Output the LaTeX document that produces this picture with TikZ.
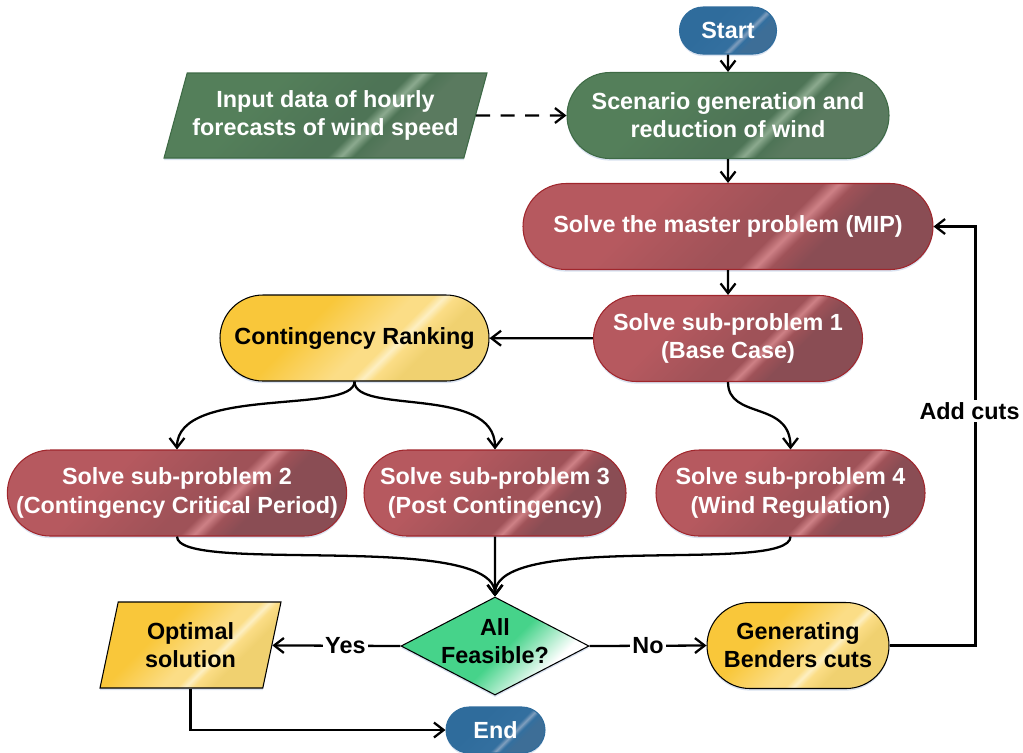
\documentclass[tikz,border=0pt]{standalone}
\usepackage{fontspec}
\setmainfont{Liberation Sans}
\usetikzlibrary{arrows.meta,shapes.geometric,shapes.misc,shadows}
\newcommand{\upx}{0.02cm}
\definecolor{red1}{HTML}{B6595F}
\definecolor{red2}{HTML}{9F5258}
\definecolor{red3}{HTML}{CE8186}
\definecolor{red4}{HTML}{8A4D54}
\definecolor{redb}{HTML}{A0262C}
\definecolor{grn1}{HTML}{547F5A}
\definecolor{grn2}{HTML}{4E7456}
\definecolor{grn3}{HTML}{8CAA8F}
\definecolor{grn4}{HTML}{5A7A5F}
\definecolor{grnb}{HTML}{3E6A45}
\definecolor{blu1}{HTML}{2F6C9C}
\definecolor{blu2}{HTML}{336F9F}
\definecolor{blu3}{HTML}{819FBE}
\definecolor{blu4}{HTML}{3D6E97}
\definecolor{yel1}{HTML}{F9C73A}
\definecolor{yel2}{HTML}{FBDD86}
\definecolor{yel3}{HTML}{FDEFC2}
\definecolor{yel4}{HTML}{F0D170}
\definecolor{dgreen}{HTML}{46D38A}
\definecolor{glow}{HTML}{C9D6EA}
\pgfdeclarehorizontalshading{redsh}{100bp}{color(0bp)=(red1); color(36bp)=(red1); color(53.5bp)=(red2); color(57.5bp)=(red2); color(59.8bp)=(red3); color(62bp)=(red2); color(66bp)=(red4); color(100bp)=(red4)}
\pgfdeclarehorizontalshading{grnsh}{100bp}{color(0bp)=(grn1); color(36bp)=(grn1); color(53.5bp)=(grn2); color(57.5bp)=(grn2); color(59.8bp)=(grn3); color(62bp)=(grn2); color(66bp)=(grn4); color(100bp)=(grn4)}
\pgfdeclarehorizontalshading{blush}{100bp}{color(0bp)=(blu1); color(38bp)=(blu1); color(55bp)=(blu2); color(58bp)=(blu2); color(60.5bp)=(blu3); color(63bp)=(blu2); color(67bp)=(blu4); color(100bp)=(blu4)}
\pgfdeclarehorizontalshading{yelsh}{100bp}{color(0bp)=(yel1); color(38bp)=(yel1); color(53.5bp)=(yel2); color(57.5bp)=(yel2); color(59.8bp)=(yel3); color(62bp)=(yel2); color(67bp)=(yel4); color(100bp)=(yel4)}
\pgfdeclarehorizontalshading{diash}{100bp}{color(0bp)=(dgreen); color(53bp)=(dgreen); color(69bp)=(white); color(100bp)=(white)}
\begin{document}
\begin{tikzpicture}[x=0.02cm,y=-0.02cm,
  base/.style={font=\bfseries\fontsize{13.3}{15.9}\selectfont, align=center, inner sep=0pt},
  wide/.style={font=\bfseries\fontsize{13.3}{17}\selectfont},
  glowy/.style={drop shadow={shadow xshift=0pt, shadow yshift=-1.2pt, fill=glow, opacity=0.7}},
  pill/.style={base, rounded rectangle, line width=0.6pt, glowy, minimum height=86*\upx},
  redbox/.style={pill, draw=redb, shade, shading=redsh, shading angle=-45, text=white},
  grnbox/.style={pill, draw=grnb, shade, shading=grnsh, shading angle=-45, text=white},
  blubox/.style={pill, draw=blu1, shade, shading=blush, shading angle=-45, text=white},
  yelbox/.style={pill, draw=black, shade, shading=yelsh, shading angle=-45, text=black},
  par/.style={base, trapezium, trapezium stretches body, line width=0.6pt, glowy},
  arr/.style={line width=1.3pt, -{Straight Barb[length=5.5pt,width=8.5pt]}},
  lab/.style={base, fill=white, inner sep=1.5pt, text=black}]
\useasboundingbox (0,0) rectangle (1023,752);

% nodes
\node[blubox, minimum width=97*\upx, minimum height=47*\upx] (start) at (728,30.5) {Start};
\node[grnbox, minimum width=322*\upx] (scen) at (728,115.5) {Scenario generation and\\reduction of wind};
\node[par, draw=grnb, shade, shading=grnsh, shading angle=-45, text=white,
      trapezium left angle=65, trapezium right angle=115,
      minimum width=323*\upx, minimum height=85*\upx] (input) at (325.5,115.5) {Input data of hourly\\forecasts of wind speed};
\node[redbox, minimum width=410*\upx] (master) at (728,226.5) {Solve the master problem (MIP)};
\node[redbox, minimum width=269*\upx] (sub1) at (728,338.5) {Solve sub-problem 1\\(Base Case)};
\node[yelbox, minimum width=269*\upx] (rank) at (354.5,338) {Contingency Ranking};
\node[redbox, wide, minimum width=338*\upx] (sub2) at (177,493) {Solve sub-problem 2\\(Contingency Critical Period)};
\node[redbox, wide, minimum width=262*\upx] (sub3) at (495,493) {Solve sub-problem 3\\(Post Contingency)};
\node[redbox, wide, minimum width=269*\upx] (sub4) at (790.5,493) {Solve sub-problem 4\\(Wind Regulation)};
\node[diamond, draw=black, line width=0.6pt, inner sep=0pt, glowy, shade, shading=diash, shading angle=-45,
      minimum width=188*\upx, minimum height=98*\upx] (feas) at (495,646) {};
\node[base, text=black] (feastxt) at (495,641) {All\\Feasible?};
\node[par, draw=black, shade, shading=yelsh, shading angle=-45, text=black,
      trapezium left angle=68, trapezium right angle=112,
      minimum width=181*\upx, minimum height=86*\upx] (opt) at (190.5,645) {Optimal\\solution};
\node[yelbox, minimum width=182*\upx] (gen) at (798,645.5) {Generating\\Benders cuts};
\node[blubox, minimum width=99*\upx, minimum height=46*\upx] (end) at (495.5,730) {End};

% connectors
\draw[arr] (start) -- (scen);
\draw[arr, dash pattern=on 8pt off 6pt] (input) -- (scen);
\draw[arr] (scen) -- (master);
\draw[arr] (master) -- (sub1);
\draw[arr] (sub1) -- (rank);
\draw[arr] (rank.south) .. controls (354.5,415) and (177,385) .. (sub2.north);
\draw[arr] (rank.south) .. controls (354.5,415) and (495,385) .. (sub3.north);
\draw[arr] (sub1.south) .. controls (728,420) and (790.5,400) .. (sub4.north);
\draw[arr] (sub2.south) .. controls (177,575) and (495,530) .. (feas.north);
\draw[arr] (sub3) -- (feas.north);
\draw[arr] (sub4.south) .. controls (790.5,575) and (495,530) .. (feas.north);
\draw[arr] (feas.west) -- node[lab, pos=0.43]{Yes} (opt);
\draw[arr] (feas.east) -- node[lab, pos=0.5]{No} (gen.west);
\draw[arr] (opt.south) |- (end.west);
\draw[arr] (gen.east) -- ++(86,0) |- node[lab, pos=0.28, xshift=-6*\upx]{Add cuts} (master.east);
\end{tikzpicture}
\end{document}
